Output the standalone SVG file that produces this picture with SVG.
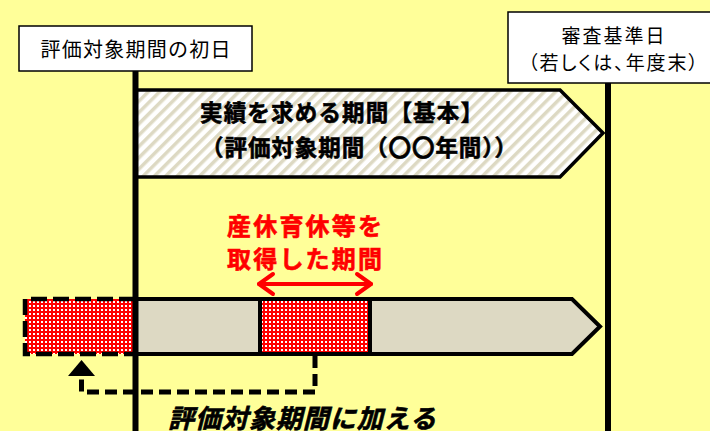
<svg xmlns="http://www.w3.org/2000/svg" width="710" height="431" viewBox="0 0 710 431">
<defs>
<pattern id="stripes" patternUnits="userSpaceOnUse" width="8" height="8" patternTransform="rotate(45)">
<rect width="8" height="8" fill="#ffffff"/>
<rect width="3.5" height="8" fill="#ddd9c3"/>
</pattern>
<pattern id="dots" patternUnits="userSpaceOnUse" width="4" height="4">
<rect width="4" height="4" fill="#ff0000"/>
<rect x="1" y="1" width="2" height="2" fill="#ffffff"/>
</pattern>
<style>
.jp{font-family:"Noto Sans CJK JP","Noto Sans CJK SC",sans-serif;}
.lbl{fill:#000;font-size:19px;text-anchor:middle;}
.box{fill:#ffffff;stroke:#000;stroke-width:1.5;}
.heavy{fill:none;stroke:#000;stroke-width:6;}
.thick{stroke-width:0.6px;}
</style>
</defs>
<rect width="710" height="431" fill="#ffff99"/>

<g id="actual-period-arrow">
<path d="M135,90 L560,90 L603,133 L560,177 L135,177 Z" fill="url(#stripes)" stroke="#000" stroke-width="3.5"/>
<text class="jp thick" x="200" y="121" font-size="22.5" font-weight="bold" stroke="#000" textLength="283" lengthAdjust="spacing">実績を求める期間【基本】</text>
<text class="jp thick" x="201" y="156" font-size="22.5" font-weight="bold" stroke="#000" textLength="316" lengthAdjust="spacing">（評価対象期間（〇〇年間））</text>
</g>

<g id="main-bar">
<path d="M135,299 L572,299 L600,326.5 L572,354 L135,354 Z" fill="#ddd9c3" stroke="#000" stroke-width="4"/>
</g>

<g id="leave-box">
<rect x="260" y="299" width="110" height="55" fill="url(#dots)" stroke="#000" stroke-width="4"/>
</g>

<g id="added-box">
<rect x="25" y="299" width="110" height="55" fill="url(#dots)"/>
<path d="M135,299 L25,299 L25,354 L135,354" fill="none" stroke="#000" stroke-width="4.5" stroke-dasharray="16 6"/>
</g>

<g id="connectors">
<line x1="135.5" y1="71" x2="135.5" y2="431" class="heavy"/>
<line x1="608" y1="83" x2="608" y2="431" class="heavy"/>
<path d="M315,356 L315,392 L81.5,392 L81.5,374" fill="none" stroke="#000" stroke-width="5" stroke-dasharray="12 6"/>
<polygon points="68,376 95,376 81.5,360" fill="#000"/>
<g fill="none" stroke="#ff0000" stroke-width="4" stroke-linecap="round" stroke-linejoin="round">
<line x1="259" y1="284" x2="371" y2="284"/>
<polyline points="273,274 259,284 273,294"/>
<polyline points="357,274 371,284 357,294"/>
</g>
</g>

<g id="start-label">
<rect x="19" y="26" width="233" height="45" class="box"/>
<text class="jp lbl" x="135.5" y="57" style="font-size:20px" textLength="190" lengthAdjust="spacing">評価対象期間の初日</text>
</g>

<g id="end-label">
<rect x="508" y="12" width="210" height="71" class="box"/>
<text class="jp lbl" x="613" y="43" textLength="103" lengthAdjust="spacing">審査基準日</text>
<text class="jp lbl" x="613" y="70" textLength="170" lengthAdjust="spacing" style="font-feature-settings:'palt'">（若しくは、年度末）</text>
</g>

<g id="leave-label">
<text class="jp thick" x="304.5" y="235" font-size="24" font-weight="bold" fill="#ff0000" stroke="#ff0000" text-anchor="middle" textLength="155" lengthAdjust="spacing">産休育休等を</text>
<text class="jp thick" x="304.5" y="268" font-size="24" font-weight="bold" fill="#ff0000" stroke="#ff0000" text-anchor="middle" textLength="155" lengthAdjust="spacing">取得した期間</text>
</g>

<g id="add-label">
<text class="jp thick" x="168" y="428" font-size="26" font-weight="bold" font-style="italic" fill="#000" stroke="#000" textLength="268" lengthAdjust="spacing">評価対象期間に加える</text>
</g>
</svg>
